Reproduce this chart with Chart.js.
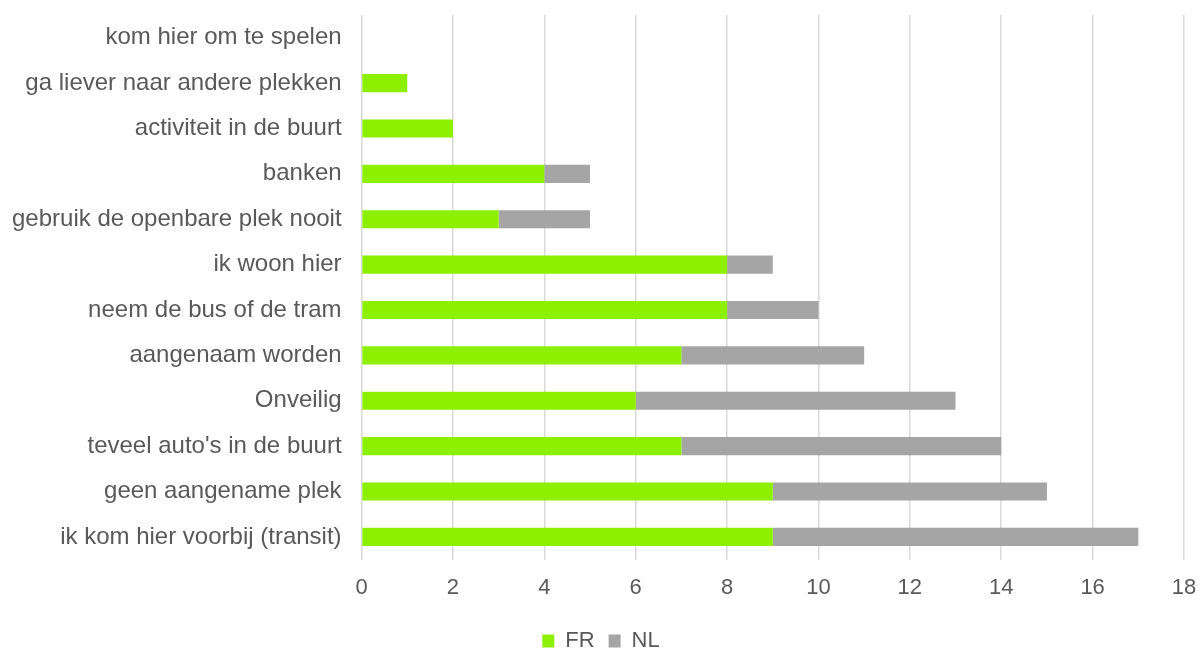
<!DOCTYPE html>
<html lang="nl">
<head>
    <meta charset="UTF-8">
    <title>FR / NL</title>
    <script src="https://cdn.jsdelivr.net/npm/chart.js"></script>
    <style>
        body { margin: 0; background: #fff; }
        .chart-container { width: 1202px; height: 650px; }
    </style>
</head>
<body>
    <div class="chart-container">
        <canvas id="chart"></canvas>
    </div>

    <script>
        const categories = [
            'kom hier om te spelen',
            'ga liever naar andere plekken',
            'activiteit in de buurt',
            'banken',
            'gebruik de openbare plek nooit',
            'ik woon hier',
            'neem de bus of de tram',
            'aangenaam worden',
            'Onveilig',
            "teveel auto's in de buurt",
            'geen aangename plek',
            'ik kom hier voorbij (transit)'
        ];
        const frValues = [0, 1, 2, 4, 3, 8, 8, 7, 6, 7, 9, 9];
        const nlValues = [0, 0, 0, 1, 2, 1, 2, 4, 7, 7, 6, 8];

        const textColor = '#595959';
        const fontFamily = '"Liberation Sans", Arial, sans-serif';

        const ctx = document.getElementById('chart').getContext('2d');
        new Chart(ctx, {
            type: 'bar',
            data: {
                labels: categories,
                datasets: [
                    { label: 'FR', data: frValues, backgroundColor: '#8CF000', borderWidth: 0 },
                    { label: 'NL', data: nlValues, backgroundColor: '#A5A5A5', borderWidth: 0 }
                ]
            },
            options: {
                indexAxis: 'y',
                responsive: true,
                maintainAspectRatio: false,
                animation: false,
                categoryPercentage: 1,
                barPercentage: 0.4,
                layout: { padding: { left: 0, right: 0, top: 0, bottom: -12 } },
                scales: {
                    x: {
                        stacked: true,
                        min: 0,
                        max: 18,
                        ticks: { stepSize: 2, color: textColor, font: { family: fontFamily, size: 22 }, padding: 15 },
                        grid: { color: '#D9D9D9', lineWidth: 1.5, drawTicks: false },
                        border: { display: false },
                        afterFit: (axis) => { axis.paddingRight = 18; }
                    },
                    y: {
                        stacked: true,
                        ticks: { color: textColor, font: { family: fontFamily, size: 24 }, padding: 12 },
                        grid: { display: false },
                        border: { display: false },
                        afterFit: (axis) => { axis.paddingTop = 15; }
                    }
                },
                plugins: {
                    legend: {
                        position: 'bottom',
                        labels: {
                            color: textColor,
                            font: { family: fontFamily, size: 22 },
                            boxWidth: 12,
                            boxHeight: 13,
                            padding: 14
                        }
                    },
                    tooltip: { enabled: false }
                }
            }
        });
    </script>
</body>
</html>
